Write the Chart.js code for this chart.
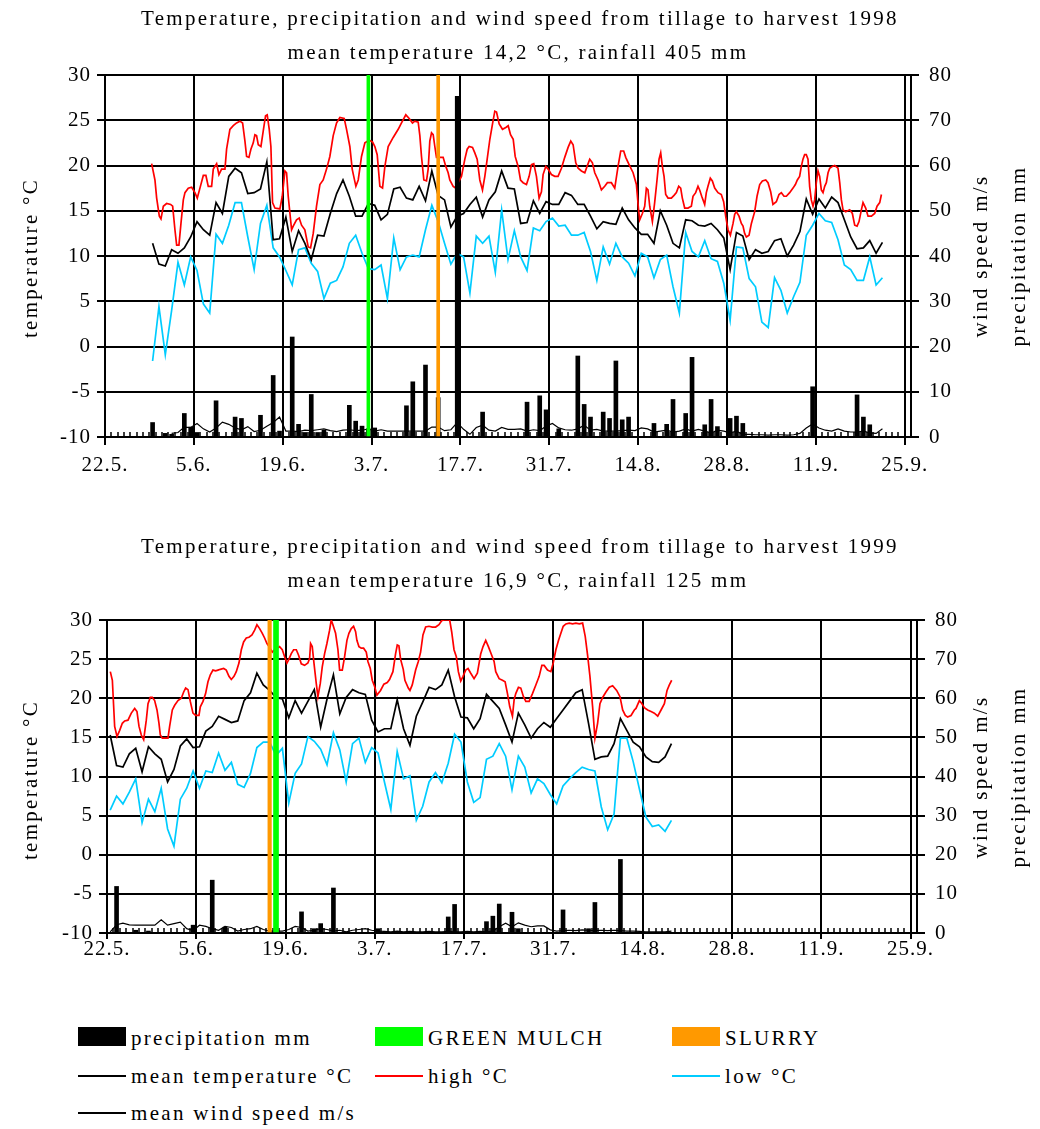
<!DOCTYPE html>
<html><head><meta charset="utf-8">
<script src="https://cdn.jsdelivr.net/npm/chart.js@4.4.1/dist/chart.umd.min.js"></script>
<style>
html,body{margin:0;padding:0;background:#fff;}
body{width:1040px;height:1129px;position:relative;overflow:hidden;font-family:'Liberation Serif','Times New Roman',serif;color:#000;}
canvas{position:absolute;left:0;}
.t{position:absolute;white-space:nowrap;font-size:21px;line-height:21px;letter-spacing:2.3px;}
.h{transform:translateX(-50%);}
.v{transform:translate(-50%,-50%) rotate(-90deg);}
.sw{position:absolute;}
</style></head><body>
<canvas id="c1" width="1040" height="500" style="top:0"></canvas>
<canvas id="c2" width="1040" height="500" style="top:500px"></canvas>

<div class="t h" style="left:520px;top:8px">Temperature, precipitation and wind speed from tillage to harvest 1998</div>
<div class="t h" style="left:518px;top:42px">mean temperature 14,2 °C, rainfall 405 mm</div>
<div class="t v" style="left:30px;top:258px">temperature °C</div>
<div class="t v" style="left:980px;top:256px">wind speed m/s</div>
<div class="t v" style="left:1018px;top:256px">precipitation mm</div>

<div class="t h" style="left:520px;top:536px">Temperature, precipitation and wind speed from tillage to harvest 1999</div>
<div class="t h" style="left:518px;top:570px">mean temperature 16,9 °C, rainfall 125 mm</div>
<div class="t v" style="left:30px;top:780px">temperature °C</div>
<div class="t v" style="left:980px;top:777px">wind speed m/s</div>
<div class="t v" style="left:1018px;top:777px">precipitation mm</div>

<div class="sw" style="left:78px;top:1027px;width:48px;height:19px;background:#000"></div>
<div class="t" style="left:131px;top:1028px">precipitation mm</div>
<div class="sw" style="left:375px;top:1027px;width:48px;height:19px;background:#00ff00"></div>
<div class="t" style="left:428px;top:1028px">GREEN MULCH</div>
<div class="sw" style="left:672px;top:1027px;width:48px;height:19px;background:#ff9900"></div>
<div class="t" style="left:725px;top:1028px">SLURRY</div>

<div class="sw" style="left:78px;top:1075px;width:48px;height:2px;background:#000"></div>
<div class="t" style="left:131px;top:1066px">mean temperature °C</div>
<div class="sw" style="left:375px;top:1075px;width:48px;height:2px;background:#ff0000"></div>
<div class="t" style="left:428px;top:1066px">high °C</div>
<div class="sw" style="left:672px;top:1075px;width:48px;height:2px;background:#00ccff"></div>
<div class="t" style="left:725px;top:1066px">low °C</div>

<div class="sw" style="left:78px;top:1112px;width:48px;height:2px;background:#000"></div>
<div class="t" style="left:131px;top:1103px">mean wind speed m/s</div>

<script>
// ---------- axis labels ----------
const xTickLabels = ['22.5.','5.6.','19.6.','3.7.','17.7.','31.7.','14.8.','28.8.','11.9.','25.9.'];

// ---------- 1998 (day index 0 = 22.5.) ----------
const start1998 = 7;
const mean1998 = [11.4,9.1,8.9,10.7,10.3,10.9,12.1,13.8,12.9,12.3,
15.9,14.7,18.8,19.7,19.2,16.9,17.0,17.4,20.4,11.8,
11.9,14.3,10.5,12.8,11.4,9.6,12.3,12.2,14.7,16.9,
18.4,16.6,14.4,14.4,15.8,15.6,14.0,14.6,17.4,17.6,
16.4,16.2,17.7,16.1,19.4,16.7,16.2,13.2,14.4,14.7,
15.7,16.5,14.3,16.2,17.1,19.4,17.5,17.4,13.6,13.7,
16.1,14.7,16.0,15.7,15.7,17.0,16.7,15.7,15.7,14.4,
13.0,13.8,13.6,13.5,15.3,14.0,13.1,12.4,12.4,11.4,
15.0,13.4,11.4,10.9,14.0,13.9,13.4,13.3,13.6,12.9,
12.0,8.5,12.6,12.2,9.6,10.7,10.3,10.5,11.7,11.9,
10.0,11.2,12.7,16.3,14.6,16.3,15.3,16.5,15.9,14.0,
12.1,10.8,10.9,11.7,10.3,11.5];
const low1998 = [-1.6,4.4,-0.9,4.0,9.3,6.8,9.9,8.4,4.7,3.7,
12.4,11.4,13.4,15.9,15.9,12.1,8.5,13.6,15.6,10.9,
9.9,8.4,6.8,10.7,10.9,9.2,8.3,5.3,7.0,7.3,
8.8,11.4,12.3,10.3,8.6,8.5,9.0,5.3,12.0,8.5,
9.9,10.1,9.9,12.9,15.6,13.8,11.4,9.1,10.3,9.9,
5.9,12.2,11.4,12.2,8.2,15.1,9.6,12.8,9.9,8.4,
13.1,12.8,13.8,14.2,13.3,13.4,12.3,12.3,12.6,10.5,
7.3,11.0,9.1,11.4,9.9,9.2,7.8,10.3,9.9,7.6,
9.6,10.1,6.6,3.7,12.6,10.5,9.9,11.7,9.7,9.4,
7.0,2.9,11.0,10.9,7.5,6.6,2.7,2.1,7.6,6.2,
3.7,5.5,7.1,12.3,13.4,14.7,13.9,13.7,11.8,9.0,
8.5,7.3,7.3,9.9,6.8,7.6];
// high temperature trace: [day, °C]
const high1998 = [[6.85,20.2],[7.37,18.4],[7.64,16.4],[8.06,14.4],[8.32,14.1],[8.69,15.5],[9.21,15.8],[9.84,15.7],[10.16,15.5],[10.52,12.9],[10.79,11.2],[11.15,11.2],[11.47,13.6],[11.84,16.2],[12.1,17.0],[12.62,17.5],[13.15,17.6],[13.67,17.0],[14.04,16.4],[14.46,17.5],[14.99,18.9],[15.4,18.9],[15.77,17.7],[16.3,17.7],[16.56,19.6],[17.09,20.2],[17.45,19.0],[17.87,19.6],[18.4,19.6],[18.66,21.8],[19.18,24.0],[19.71,24.4],[20.23,24.7],[20.76,24.9],[21.18,24.7],[21.55,22.7],[21.81,21.0],[22.18,20.9],[22.49,21.8],[22.86,22.5],[23.12,23.4],[23.38,23.3],[23.65,22.3],[24.07,22.1],[24.43,23.8],[24.8,25.5],[25.06,25.6],[25.38,24.0],[25.64,22.1],[25.9,15.9],[26.27,15.3],[27.06,15.2],[27.43,16.6],[27.85,19.4],[28.11,19.2],[28.37,16.6],[28.9,12.9],[29.16,13.3],[29.68,14.0],[30.1,14.2],[30.47,13.4],[30.99,12.9],[31.52,11.0],[31.89,10.9],[32.31,12.5],[32.83,15.5],[33.36,17.9],[33.88,18.4],[34.41,19.6],[34.93,21.0],[35.46,23.3],[35.98,24.7],[36.51,25.3],[37.19,25.2],[37.56,24.0],[38.08,22.1],[38.45,19.6],[39.03,17.7],[39.4,18.4],[39.92,21.0],[40.45,22.5],[41.13,22.8],[41.65,22.6],[42.02,22.1],[42.39,21.2],[42.81,17.7],[43.23,17.5],[43.6,19.9],[44.12,22.1],[44.91,23.1],[45.7,24.0],[46.22,24.7],[46.9,25.6],[47.43,25.2],[47.95,24.7],[48.32,24.9],[48.85,24.8],[49.11,23.3],[49.37,21.0],[49.74,18.4],[50.16,18.3],[50.42,19.6],[50.68,22.7],[50.95,23.6],[51.21,23.4],[51.47,22.1],[51.73,20.9],[52.26,20.9],[52.78,20.9],[53.2,19.9],[53.57,19.2],[53.83,18.4],[54.36,17.7],[54.78,17.5],[55.15,18.1],[55.67,18.8],[56.2,20.7],[56.57,21.8],[56.88,22.1],[57.41,22.0],[57.77,21.4],[58.14,20.7],[58.56,18.4],[58.98,17.3],[59.35,18.8],[59.72,20.7],[60.14,22.9],[60.56,24.6],[60.92,26.0],[61.19,25.9],[61.61,24.6],[62.13,24.0],[62.66,24.2],[63.03,24.4],[63.4,23.4],[63.82,22.9],[64.13,21.0],[64.6,19.9],[64.97,18.4],[65.38,18.1],[65.91,17.9],[66.33,18.8],[66.7,20.1],[67.06,20.2],[67.48,18.8],[67.9,16.4],[68.27,17.1],[68.53,19.0],[68.95,19.9],[69.32,19.6],[69.84,19.0],[70.37,18.8],[70.89,18.8],[71.42,19.7],[71.94,20.9],[72.47,22.0],[72.89,22.7],[73.26,22.3],[73.68,20.3],[74.05,19.7],[74.57,19.4],[75.1,19.2],[75.46,19.9],[75.88,20.7],[76.3,20.3],[76.67,19.2],[77.19,18.4],[77.72,17.3],[78.24,17.7],[78.66,18.1],[79.29,18.1],[79.82,17.5],[80.34,19.9],[80.76,21.6],[81.23,21.6],[81.55,20.9],[82.08,20.1],[82.71,19.2],[83.23,17.9],[83.55,15.3],[83.75,14.0],[84.17,14.7],[84.54,15.5],[84.8,17.5],[85.06,17.3],[85.33,15.5],[85.75,13.8],[86.11,15.9],[86.48,18.4],[86.8,20.7],[87.06,21.4],[87.32,19.9],[87.59,18.8],[87.85,16.8],[88.22,16.4],[88.74,16.4],[89.16,16.7],[89.53,17.0],[89.9,17.7],[90.21,17.5],[90.47,16.4],[90.84,15.3],[91.36,15.3],[91.89,15.5],[92.15,16.6],[92.57,17.0],[92.94,17.7],[93.2,17.3],[93.52,16.6],[93.99,15.7],[94.25,17.0],[94.51,17.7],[94.88,18.6],[95.2,18.3],[95.57,17.5],[96.09,17.0],[96.61,16.8],[96.98,16.0],[97.3,14.4],[97.67,12.9],[98.04,12.3],[98.46,13.6],[98.72,14.6],[98.98,14.9],[99.4,14.4],[99.77,13.6],[100.03,13.3],[100.29,12.5],[100.56,12.1],[100.98,12.3],[101.35,13.6],[101.87,14.9],[102.24,16.6],[102.66,17.9],[103.08,18.3],[103.61,18.4],[103.97,18.1],[104.39,17.1],[104.75,15.7],[105.28,16.0],[105.7,16.8],[106.07,17.0],[106.49,16.6],[106.86,16.6],[107.38,17.0],[107.91,17.5],[108.28,17.9],[108.59,18.4],[108.95,18.8],[109.22,19.9],[109.48,20.7],[109.74,21.2],[110.0,21.2],[110.27,20.7],[110.53,17.7],[110.79,16.2],[111.06,15.5],[111.32,16.2],[111.58,18.1],[111.85,19.4],[112.11,18.8],[112.37,17.3],[112.64,17.0],[112.9,17.7],[113.16,18.1],[113.43,19.2],[113.69,19.7],[114.11,19.9],[114.48,20.0],[115.0,19.7],[115.27,18.1],[115.53,16.2],[115.79,15.1],[116.21,14.9],[116.84,15.1],[117.26,14.7],[117.63,13.4],[118.0,13.3],[118.31,13.8],[118.68,15.1],[118.94,15.9],[119.36,15.3],[119.73,14.4],[120.26,14.4],[120.78,14.7],[121.15,15.5],[121.57,15.9],[121.84,16.8]];
const precipDays1998 = [7,9,10,12,13,14,17,20,21,24,26,27,29,30,31,32,33,34,38,39,40,41,42,47,48,50,52,55,59,66,68,69,71,74,75,76,78,79,80,81,82,86,88,89,91,92,94,95,96,98,99,100,111,118,119,120];
const precipMm1998 = [3.2,0.8,0.6,5.2,2.2,1.0,8.0,4.4,4.1,4.8,13.6,1.3,22.1,2.8,1.0,9.4,1.0,1.5,7.0,3.5,2.4,1.8,2.0,6.9,12.2,15.9,8.7,75.3,5.5,7.7,9.1,6.0,1.8,17.9,7.2,4.4,5.5,4.1,16.8,3.8,4.4,3.0,2.8,8.3,5.2,17.6,2.7,8.3,2.3,4.1,4.6,3.0,11.1,9.3,4.4,2.7];
const windStart1998 = 10;
const wind1998 = [0.8,1.0,2.2,2.1,3.0,1.8,1.1,2.0,3.3,2.8,
2.0,1.6,2.3,1.2,1.5,2.4,3.2,4.4,1.3,1.3,
1.2,1.5,1.4,1.6,1.8,1.4,1.2,1.5,1.6,1.4,
1.5,1.8,1.3,1.6,1.3,1.3,1.3,1.3,1.3,1.3,
1.3,2.2,2.2,1.4,1.6,3.2,1.7,0.6,2.1,2.6,
1.5,1.3,2.1,1.7,1.7,1.8,1.3,1.6,1.4,2.4,
3.0,2.0,1.6,1.5,1.8,2.6,1.5,1.7,1.3,1.3,
1.3,1.4,1.5,1.4,2.0,1.8,1.1,1.3,1.5,1.1,
1.3,1.8,1.3,1.7,1.3,0.9,1.5,1.3,0.9,1.3,
0.6,0.6,0.5,0.5,0.4,0.5,0.5,0.4,0.5,0.8,
2.0,2.9,2.0,1.5,1.3,1.8,1.3,1.1,1.1,1.3,
0.9,0.8,1.8];
const greenMulchDay1998 = 41;
const slurryDay1998 = 52;

// ---------- 1999 ----------
const start1999 = 0;
const mean1999 = [15.3,11.4,11.2,12.9,13.6,10.6,13.8,12.9,12.2,9.3,
10.9,13.9,14.8,13.7,13.8,15.8,16.4,17.7,17.3,16.9,
17.1,19.7,20.7,23.2,21.7,21.0,20.1,19.9,17.5,19.7,
18.1,19.6,21.1,16.3,19.9,23.0,18.0,20.1,21.1,20.7,
20.5,17.2,15.7,16.1,16.1,19.8,16.1,14.0,17.7,19.5,
21.4,21.1,21.7,23.6,20.2,17.6,17.5,16.1,17.4,20.5,
19.6,18.7,16.6,14.4,18.1,16.6,14.9,16.1,16.9,16.3,
17.4,18.5,19.6,20.7,21.1,16.8,12.2,12.5,12.6,14.2,
17.4,15.9,14.4,13.8,12.5,11.9,11.8,12.5,14.2];
const low1999 = [5.7,7.5,6.5,8.0,9.7,4.1,7.1,5.5,8.5,3.3,
1.1,7.1,8.5,10.7,8.5,10.7,10.5,13.0,10.8,11.8,
9.0,8.6,10.4,13.7,14.4,14.4,12.7,13.6,6.6,10.4,
11.6,15.1,14.5,13.5,11.5,15.6,13.4,9.3,14.2,14.9,
11.8,13.7,13.0,9.3,5.8,13.2,9.7,10.1,4.4,6.2,
9.3,10.5,9.2,11.7,15.4,14.4,9.3,6.7,7.3,12.2,
12.6,14.2,12.6,8.3,12.6,11.2,7.9,9.7,9.1,7.7,
6.5,8.8,9.7,10.5,11.2,10.9,10.7,6.1,3.2,5.2,
14.9,14.9,11.9,8.3,4.8,3.6,3.8,3.0,4.4];
const high1999 = [[0.02,23.4],[0.34,22.3],[0.70,16.4],[1.07,15.1],[1.49,15.9],[1.90,16.8],[2.27,17.1],[2.79,17.2],[3.31,18.1],[3.84,18.7],[4.20,18.3],[4.52,16.4],[4.88,15.3],[5.25,14.7],[5.66,17.2],[5.93,19.3],[6.29,20.1],[6.61,20.1],[6.97,19.7],[7.34,18.5],[7.65,16.8],[7.86,15.3],[8.17,14.9],[8.80,14.9],[9.06,14.9],[9.32,16.4],[9.74,18.5],[10.11,19.1],[10.63,19.7],[11.15,20.0],[11.52,20.8],[11.83,21.3],[12.2,21.1],[12.56,19.6],[12.98,18.1],[13.4,17.8],[13.92,17.8],[14.13,18.9],[14.55,19.6],[14.96,20.6],[15.33,22.1],[15.7,23.0],[16.11,23.6],[16.53,23.5],[16.9,23.6],[17.26,23.7],[17.79,23.8],[18.2,23.6],[18.62,22.8],[18.99,22.4],[19.41,22.8],[19.77,23.4],[20.19,24.5],[20.56,26.2],[20.92,27.2],[21.34,27.7],[21.76,27.8],[22.23,28.1],[22.65,28.7],[23.01,29.4],[23.43,28.9],[23.85,28.3],[24.21,27.7],[24.58,27.0],[24.99,26.5],[25.41,25.9],[25.78,26.2],[26.2,26.4],[26.56,26.6],[26.98,26.2],[27.35,25.3],[27.71,24.5],[28.03,25.0],[28.39,25.7],[28.76,26.2],[29.18,26.2],[29.54,25.5],[29.96,24.4],[30.48,24.2],[31.0,24.5],[31.27,25.1],[31.42,27.0],[31.68,26.6],[31.95,24.5],[32.31,21.9],[32.57,20.2],[32.94,21.9],[33.25,24.0],[33.62,25.7],[33.98,27.0],[34.4,28.7],[34.66,30.0],[34.92,29.4],[35.34,28.3],[35.71,26.2],[35.97,23.6],[36.39,23.6],[36.75,25.3],[37.12,27.4],[37.43,28.3],[37.8,28.9],[38.16,29.2],[38.48,28.5],[38.68,27.4],[39.0,26.6],[39.37,26.4],[39.73,26.4],[40.15,25.9],[40.41,24.7],[40.78,23.8],[41.09,22.3],[41.46,21.5],[41.82,20.4],[42.39,21.0],[42.91,21.8],[43.44,22.0],[43.8,22.4],[44.33,23.4],[44.75,25.7],[45.01,26.8],[45.27,26.7],[45.53,25.0],[45.95,23.7],[46.21,22.3],[46.74,21.3],[47.0,21.0],[47.36,21.7],[47.89,23.6],[48.31,24.7],[48.67,25.9],[49.04,28.1],[49.46,29.1],[49.98,29.2],[50.51,29.1],[51.03,29.1],[51.55,29.4],[51.97,29.9],[52.34,30.0],[53.23,30.0],[53.54,28.5],[53.91,26.2],[54.27,25.3],[54.59,23.4],[54.96,22.2],[55.32,22.8],[55.74,23.6],[56.11,23.8],[56.53,23.2],[57.05,22.5],[57.57,23.2],[58.1,25.7],[58.46,26.6],[58.88,27.4],[59.3,26.6],[59.82,25.5],[60.19,24.7],[60.45,23.4],[60.98,22.5],[61.5,22.3],[61.92,22.1],[62.29,20.6],[62.65,18.9],[63.07,17.7],[63.33,19.8],[63.59,20.6],[64.01,21.4],[64.38,21.3],[64.8,20.2],[65.17,19.6],[65.69,19.6],[66.21,20.6],[66.74,21.7],[67.26,22.8],[67.68,24.2],[68.04,24.2],[68.57,23.6],[69.09,23.4],[69.46,24.5],[69.88,26.2],[70.3,27.4],[70.66,28.3],[71.03,29.2],[71.45,29.5],[71.97,29.6],[72.5,29.5],[73.02,29.6],[73.54,29.5],[74.07,29.6],[74.48,27.9],[74.85,25.5],[75.22,22.8],[75.64,18.9],[76.0,14.9],[76.42,16.8],[76.79,19.3],[77.21,20.1],[77.73,20.8],[78.25,21.4],[78.78,21.6],[79.41,21.0],[79.93,20.2],[80.35,18.5],[80.77,17.8],[81.13,17.6],[81.66,17.8],[82.18,18.5],[82.44,18.7],[82.97,19.7],[83.38,19.3],[83.75,18.8],[84.27,18.5],[84.8,18.3],[85.32,18.1],[85.85,17.7],[86.37,18.5],[86.89,19.3],[87.31,21.0],[87.67,21.7],[88.04,22.3]];
const precipDays1999 = [1,4,6,13,16,18,30,32,33,35,42,53,54,59,60,61,63,64,71,75,76,80];
const precipMm1999 = [11.9,0.7,0.5,2.0,13.5,1.5,5.4,1.1,2.4,11.5,1.1,4.1,7.3,2.9,4.3,7.4,5.3,1.1,5.9,1.1,7.8,18.8];
const windStart1999 = 0;
const wind1999 = [0.3,2.1,2.5,2.1,2.0,2.0,2.0,2.0,3.4,2.0,
2.4,2.8,1.1,0.6,2.0,1.7,1.1,0.7,1.7,1.4,
0.5,0.9,1.1,1.7,0.9,0.5,0.5,0.5,0.9,1.7,
1.4,0.5,0.7,1.1,0.9,0.5,0.7,0.3,0.7,0.9,
1.1,0.7,0.5,0.4,0.3,0.5,0.3,0.4,0.3,0.3,
0.4,0.3,0.3,0.4,0.3,0.3,0.4,0.3,0.4,0.3,
0.5,1.6,2.5,1.6,2.6,2.0,1.6,1.8,1.8,0.8,
0.5,0.6,0.7,0.6,0.8,0.7,0.6,0.7,0.6,0.7,
0.6,0.5,0.5,0.4,0.3,0.3,0.3,0.3,0.5];
const greenMulchDay1999 = 26;
const slurryDay1999 = 25;

// ---------- helpers ----------
const daily = (start, arr) => arr.map((v, i) => ({x: start + i + 0.5, y: v}));
const trace = arr => arr.map(([d, v]) => ({x: d + 0.5, y: v}));
const sparse = (days, vals) => days.map((d, i) => ({x: d + 0.5, y: vals[i]}));

const FONT = {family: "'Liberation Serif','Times New Roman',serif", size: 21};

const letterSpacing = {
  id: 'letterSpacing',
  beforeUpdate(c) { c.ctx.letterSpacing = '1px'; },
  beforeLayout(c) { c.ctx.letterSpacing = '1px'; },
  beforeDraw(c) { c.ctx.letterSpacing = '1px'; }
};
const minorTicks = {
  id: 'minorTicks',
  beforeDatasetsDraw(c) {
    const x = c.scales.x, a = c.chartArea, ctx = c.ctx;
    ctx.save();
    ctx.strokeStyle = '#000';
    ctx.lineWidth = 1.5;
    ctx.beginPath();
    for (let d = Math.ceil(x.min); d <= x.max; d++) {
      const px = Math.round(x.getPixelForValue(d));
      ctx.moveTo(px, a.bottom);
      ctx.lineTo(px, a.bottom - 5);
    }
    ctx.stroke();
    ctx.restore();
  }
};

function build(id, g, d) {
  const grid = {color: '#000', lineWidth: 2, tickLength: 8, offset: false};
  const border = {color: '#000', width: 2};
  new Chart(document.getElementById(id), {
    type: 'line',
    data: {
      datasets: [
        {type: 'bar', label: 'precipitation mm', data: sparse(d.pDays, d.pMm), yAxisID: 'y1',
         backgroundColor: '#000', barThickness: 4, grouped: false, order: 1},
        {type: 'bar', label: 'GREEN MULCH', data: [{x: d.green + 0.5, y: 80}], yAxisID: 'y1',
         backgroundColor: '#00ff00', barThickness: g.greenW, grouped: false, order: 0},
        {type: 'bar', label: 'SLURRY', data: [{x: d.slurry + 0.5, y: 80}], yAxisID: 'y1',
         backgroundColor: '#ff9900', barThickness: g.slurryW, grouped: false, order: 0},
        {label: 'mean wind speed m/s', data: daily(d.windStart, d.wind), yAxisID: 'y1',
         borderColor: '#000', borderWidth: 1.2, order: 2},
        {label: 'mean temperature °C', data: daily(d.start, d.mean), yAxisID: 'y',
         borderColor: '#000', borderWidth: 1.7, order: 3},
        {label: 'high °C', data: trace(d.high), yAxisID: 'y',
         borderColor: '#ff0000', borderWidth: 1.7, order: 4},
        {label: 'low °C', data: daily(d.start, d.low), yAxisID: 'y',
         borderColor: '#00ccff', borderWidth: 1.7, order: 5}
      ]
    },
    options: {
      responsive: false, animation: false, devicePixelRatio: 1,
      layout: {padding: {top: g.top, left: 0, right: 0, bottom: 0}},
      elements: {point: {radius: 0}, line: {tension: 0, fill: false}},
      plugins: {legend: {display: false}, tooltip: {enabled: false}, title: {display: false}},
      scales: {
        x: {type: 'linear', min: 0, max: 127, offset: false,
            ticks: {stepSize: 14, includeBounds: false, autoSkip: false, maxRotation: 0,
                    font: FONT, color: '#000', padding: g.xPad,
                    callback: v => xTickLabels[Math.round(v / 14)]},
            grid: {...grid, tickLength: g.xTick}, border,
            afterFit: s => { s.height = g.xH; }},
        y: {position: 'left', min: -10, max: 30,
            ticks: {stepSize: 5, font: FONT, color: '#000', padding: 6},
            grid, border,
            afterFit: s => { s.width = g.left; }},
        y1: {position: 'right', min: 0, max: 80,
             ticks: {stepSize: 10, font: FONT, color: '#000', padding: 10},
             grid: {...grid, drawOnChartArea: false}, border,
             afterFit: s => { s.width = g.rightW; }}
      }
    },
    plugins: [letterSpacing, minorTicks]
  });
}

build('c1', {top: 75, xH: 63, left: 105, rightW: 129, xPad: 8, xTick: 8, greenW: 3, slurryW: 3},
  {start: start1998, mean: mean1998, low: low1998, high: high1998,
   pDays: precipDays1998, pMm: precipMm1998, windStart: windStart1998, wind: wind1998,
   green: greenMulchDay1998, slurry: slurryDay1998});
build('c2', {top: 120, xH: 67, left: 107, rightW: 123, xPad: -2, xTick: 6, greenW: 5, slurryW: 3.5},
  {start: start1999, mean: mean1999, low: low1999, high: high1999,
   pDays: precipDays1999, pMm: precipMm1999, windStart: windStart1999, wind: wind1999,
   green: greenMulchDay1999, slurry: slurryDay1999});
</script>
</body></html>
